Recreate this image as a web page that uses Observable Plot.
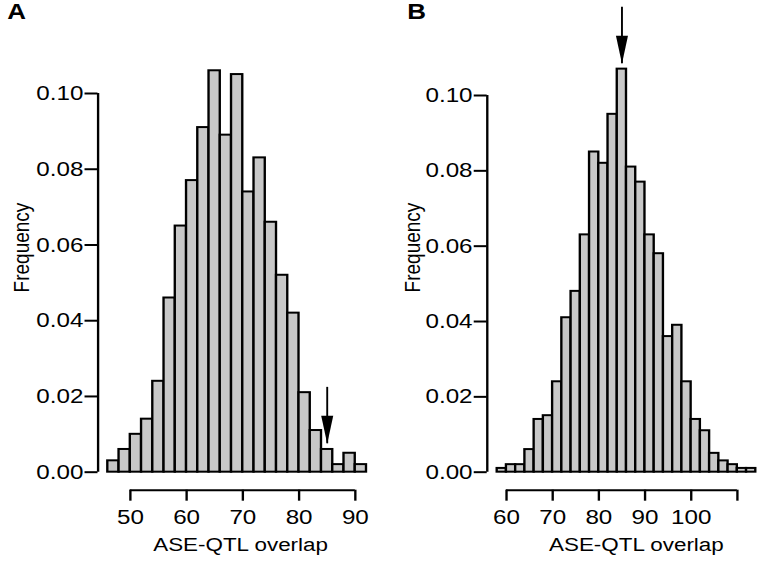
<!DOCTYPE html>
<html>
<head>
<meta charset="utf-8">
<script src="https://cdn.jsdelivr.net/npm/d3@7"></script>
<script src="https://cdn.jsdelivr.net/npm/@observablehq/plot@0.6"></script>
<style>
  html, body { margin: 0; padding: 0; background: #fff; }
  #wrap { position: relative; width: 761px; height: 564px; overflow: hidden; background: #fff; }
  #wrap svg { position: absolute; top: 0; transform-origin: 0 0; }
</style>
</head>
<body>
<div id="wrap"></div>
<script>
// ---------- data ----------
const binsA = [46,48,50,52,54,56,58,60,62,64,66,68,70,72,74,76,78,80,82,84,86,88,90,92];
const freqA = [0.003,0.006,0.010,0.014,0.024,0.046,0.065,0.077,0.091,0.106,0.089,0.105,0.074,0.083,0.066,0.052,0.042,0.021,0.011,0.006,0.002,0.005,0.002];
const observedA = [{x: 85, top: 0.0224, tip: 0.0075}];

const binsB = [58,60,62,64,66,68,70,72,74,76,78,80,82,84,86,88,90,92,94,96,98,100,102,104,106,108,110,112,114];
const freqB = [0.001,0.002,0.002,0.006,0.014,0.015,0.024,0.041,0.048,0.063,0.085,0.082,0.095,0.107,0.081,0.077,0.063,0.058,0.036,0.039,0.024,0.014,0.011,0.005,0.003,0.002,0.001,0.001];
const observedB = [{x: 85, top: 0.1234, tip: 0.1084}];

const yTicks = [0, 0.02, 0.04, 0.06, 0.08, 0.10];
const xTicksA = [50, 60, 70, 80, 90];
const xLabelsA = ["50", "60", "70", "80", "90"];
const xTicksB = [60, 70, 80, 90, 100, 110];
const xLabelsB = ["60", "70", "80", "90", "100", ""];
const xTitle = "ASE-QTL overlap";
const yTitle = "Frequency";

// ---------- drawing ----------
const S = 1.18; // horizontal stretch of the reference figure
const FONT = "'Liberation Sans', Arial, Helvetica, sans-serif";
const headSymbol = {
  draw(ctx) {
    ctx.moveTo(0, 0);
    ctx.lineTo(-5.1, -28);
    ctx.lineTo(5.1, -28);
    ctx.closePath();
  }
};

function panel(cfg) {
  const rows = cfg.freq.map((f, i) => ({x1: cfg.bins[i], x2: cfg.bins[i + 1], f}));
  const labelFor = d => cfg.xLabels[cfg.xTicks.indexOf(d)];
  return Plot.plot({
    width: cfg.width,
    height: 564,
    marginLeft: cfg.marginLeft,
    marginRight: cfg.marginRight,
    marginTop: cfg.marginTop,
    marginBottom: 92.3,
    style: {fontFamily: FONT, fontSize: "20px", color: "black", background: "transparent", overflow: "visible"},
    x: {domain: [cfg.bins[0], cfg.bins[cfg.bins.length - 1]]},
    y: {domain: [0, 0.1]},
    marks: [
      Plot.rect(rows, {x1: "x1", x2: "x2", y1: 0, y2: "f", fill: "#c8c8c8", stroke: "black", strokeWidth: 2}),
      Plot.ruleX(cfg.arrow, {x: "x", y1: "top", y2: "tip", stroke: "black", strokeWidth: 1.6}),
      Plot.dot(cfg.arrow, {x: "x", y: "tip", symbol: headSymbol, fill: "black", stroke: "none", r: 5}),
      Plot.axisY({ticks: yTicks, tickFormat: d3.format(".2f"), tickSize: 11, tickPadding: 1.5,
                  dx: cfg.yAxisDx, fontSize: 20.5, strokeWidth: 2, label: null}),
      Plot.ruleX([cfg.bins[0]], {y1: yTicks[0], y2: yTicks[yTicks.length - 1], dx: cfg.yAxisDx, strokeWidth: 2}),
      Plot.axisX({ticks: cfg.xTicks, tickFormat: labelFor, tickSize: 11, tickPadding: 8,
                  dy: 18, fontSize: 20.5, strokeWidth: 2, label: null}),
      Plot.ruleY([0], {x1: cfg.xTicks[0], x2: cfg.xTicks[cfg.xTicks.length - 1], dy: 18, strokeWidth: 2}),
      Plot.text([yTitle], {text: d => d, frameAnchor: "left", rotate: -90, dx: cfg.yTitleDx, dy: cfg.yTitleDy,
                           fontSize: 19, textAnchor: "middle", lineAnchor: "middle"}),
      Plot.text([xTitle], {text: d => d, frameAnchor: "bottom", dx: cfg.xTitleDx, dy: 65,
                           fontSize: 19, textAnchor: "middle", lineAnchor: "top"}),
      Plot.text([cfg.letter], {text: d => d, frameAnchor: "top-left", dx: cfg.letterDx, dy: 3.3 - cfg.marginTop,
                               fontSize: 22, fontWeight: "bold", textAnchor: "start", lineAnchor: "top"})
    ]
  });
}

const wrap = document.getElementById("wrap");

const svgA = panel({
  bins: binsA, freq: freqA, arrow: observedA, xTicks: xTicksA, xLabels: xLabelsA, letter: "A",
  width: 380 / S, marginLeft: 107.3 / S, marginRight: (380 - 366) / S, marginTop: 93,
  yAxisDx: 97.5 / S - 107.3 / S, yTitleDx: 21 / S - 107.3 / S, yTitleDy: -35.3,
  xTitleDx: 240 / S - (107.3 + 366) / 2 / S, letterDx: 6.7 / S - 107.3 / S
});
svgA.style.left = "0px";
svgA.style.transform = `scaleX(${S})`;
wrap.appendChild(svgA);

const svgB = panel({
  bins: binsB, freq: freqB, arrow: observedB, xTicks: xTicksB, xLabels: xLabelsB, letter: "B",
  width: 381 / S, marginLeft: 116.7 / S, marginRight: (381 - 375.3) / S, marginTop: 95,
  yAxisDx: 106.7 / S - 116.7 / S, yTitleDx: 32 / S - 116.7 / S, yTitleDy: -36.3,
  xTitleDx: 255.8 / S - (116.7 + 375.3) / 2 / S, letterDx: 26.7 / S - 116.7 / S
});
svgB.style.left = "380px";
svgB.style.transform = `scaleX(${S})`;
wrap.appendChild(svgB);
</script>
</body>
</html>
